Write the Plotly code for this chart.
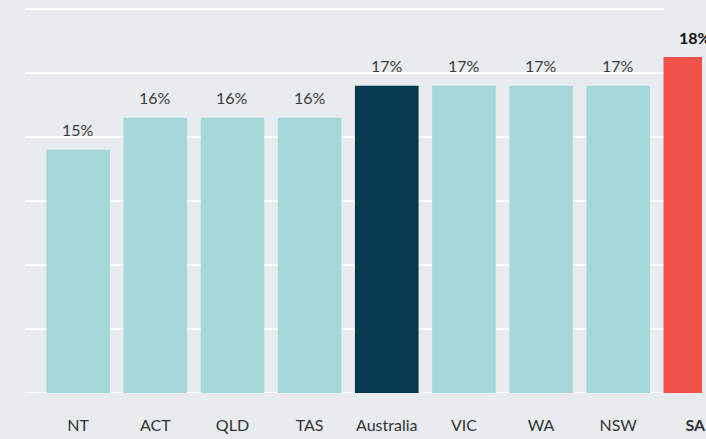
import plotly.graph_objects as go

categories = ["NT", "ACT", "QLD", "TAS", "Australia", "VIC", "WA", "NSW", "SA"]
values = [15.0, 16.0, 16.0, 16.0, 17.0, 17.0, 17.0, 17.0, 17.9]
highlight = {"Australia": "#033a4d", "SA": "#f0524a"}
base_color = "#a5d9d9"

y_base = 7.4
y_step = 2.0
grid_vals = [y_base + y_step * k for k in range(7)]

colors = [highlight.get(c, base_color) for c in categories]
texts = [("<b>%.0f%%</b>" % v) if c == "SA" else ("%.0f%%" % v) for c, v in zip(categories, values)]
ticktext = [("<b>%s</b>" % c) if c == "SA" else c for c in categories]
textcolors = ["#111111" if c == "SA" else "#3a3a3a" for c in categories]

fig = go.Figure(go.Bar(
    x=categories, y=values, marker=dict(color=colors, line=dict(width=0)),
    cliponaxis=False, hoverinfo="x+y",
))

annotations = [dict(x=c, y=v, xref="x", yref="y", text=t, showarrow=False,
                    yanchor="middle", xanchor="center", yshift=20,
                    font=dict(family="Lato", size=16, color=tc))
               for c, v, t, tc in zip(categories, values, texts, textcolors)]

shapes = [dict(type="line", xref="paper", yref="y", x0=0, x1=0.944, y0=g, y1=g,
               line=dict(color="white", width=2), layer="below") for g in grid_vals]

fig.update_layout(
    width=706, height=439,
    margin=dict(l=25, r=0, t=0, b=46),
    paper_bgcolor="#e9ecef", plot_bgcolor="#e9ecef",
    bargap=0.175, showlegend=False, shapes=shapes, annotations=annotations,
    font=dict(family="Lato", size=16, color="#3a3a3a"),
)
fig.update_xaxes(range=[-0.689, 8.086], tickvals=categories, ticktext=ticktext,
                 showgrid=False, showline=False, zeroline=False,
                 ticklabelstandoff=21, tickfont=dict(family="Lato", size=16, color="#333333"))
fig.update_yaxes(range=[y_base, y_base + 393 / 32], showgrid=False, zeroline=False,
                 showticklabels=False, showline=False)

fig.write_html("out.html", config={"displayModeBar": False},
               post_script="document.body.style.margin='0';document.body.style.overflow='hidden';")
